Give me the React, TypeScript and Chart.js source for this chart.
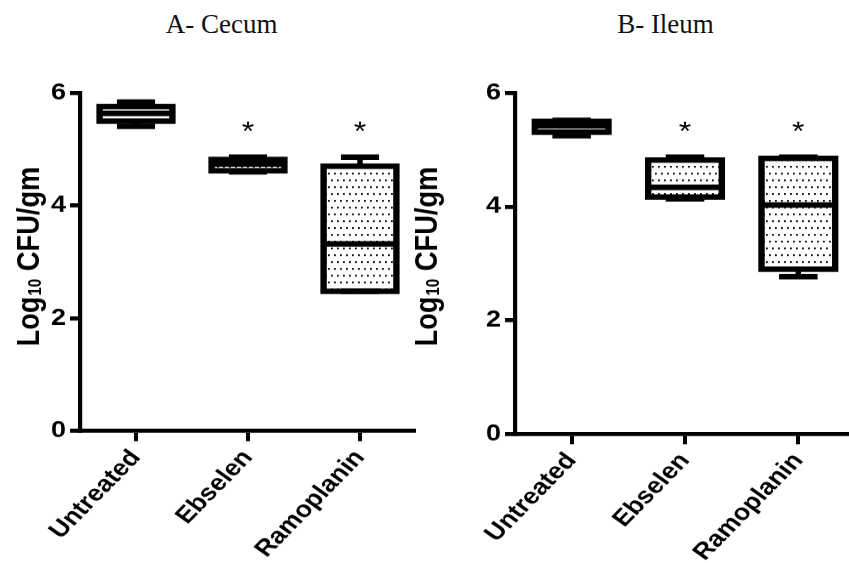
import React, { useEffect, useRef } from "react";
import { Chart, registerables } from "chart.js";

Chart.register(...registerables);

// ---------------- data ----------------
const categories = ["Untreated", "Ebselen", "Ramoplanin"];
const yTickValues = [0, 2, 4, 6];
const panelTitles = ["A- Cecum", "B- Ileum"];
const starLevel = 5.4;

const cecumMin = [5.41, 4.6, 2.48];
const cecumQ1 = [5.5, 4.62, 2.48];
const cecumMedian = [5.64, 4.74, 3.32];
const cecumQ3 = [5.76, 4.82, 4.7];
const cecumMax = [5.84, 4.86, 4.86];
const cecumStars = ["", "*", "*"];

const ileumMin = [5.25, 4.14, 2.77];
const ileumQ1 = [5.31, 4.17, 2.9];
const ileumMedian = [5.42, 4.34, 4.03];
const ileumQ3 = [5.5, 4.82, 4.85];
const ileumMax = [5.52, 4.87, 4.87];
const ileumStars = ["", "*", "*"];

// ---------------- styling / layout ----------------
const cecumDotted = [false, true, true];
const ileumDotted = [true, true, true];
const DISPLAY_H = 563;
const CANVAS_H = 662;
const toInt = (d: number) => (d * CANVAS_H) / DISPLAY_H;
const SANS = '"Liberation Sans", Arial, Helvetica, sans-serif';

function makePattern(ctx: CanvasRenderingContext2D) {
  const c = document.createElement("canvas");
  c.width = 6;
  c.height = 16;
  const g = c.getContext("2d")!;
  g.fillStyle = "#fff";
  g.fillRect(0, 0, 6, 16);
  g.fillStyle = "#111";
  g.fillRect(1, 3, 1.8, 2.2);
  g.fillRect(4, 11, 1.8, 2.2);
  return ctx.createPattern(c, "repeat");
}

type Stats = {
  min: number[];
  q1: number[];
  median: number[];
  q3: number[];
  max: number[];
  stars: string[];
};

function buildChart(
  canvas: HTMLCanvasElement,
  stats: Stats,
  dotted: boolean[],
  yAxisWidth: number,
  zeroDisplayY: number,
  titleBaselineX: number
) {
  const ctx = canvas.getContext("2d")!;
  const pattern = makePattern(ctx);
  const topInt = toInt(93);
  const xAxisH = CANVAS_H - toInt(zeroDisplayY);

  const boxPlugin = {
    id: "boxWhisker",
    afterDatasetsDraw(chart: any) {
      const c: CanvasRenderingContext2D = chart.ctx;
      const ys = chart.scales.y;
      const xs = chart.scales.x;
      const meta = chart.getDatasetMeta(0);
      const catW = (xs.right - xs.left) / categories.length;
      c.save();
      c.strokeStyle = "#000";
      c.lineCap = "butt";
      c.lineJoin = "miter";
      const seg = (x1: number, y1: number, x2: number, y2: number, w: number) => {
        c.lineWidth = w;
        c.beginPath();
        c.moveTo(x1, y1);
        c.lineTo(x2, y2);
        c.stroke();
      };
      meta.data.forEach((bar: any, i: number) => {
        const cx = bar.x;
        const half = bar.width / 2;
        const capHalf = catW * 0.17;
        const pMin = ys.getPixelForValue(stats.min[i]);
        const pQ1 = ys.getPixelForValue(stats.q1[i]);
        const pMed = ys.getPixelForValue(stats.median[i]);
        const pQ3 = ys.getPixelForValue(stats.q3[i]);
        const pMax = ys.getPixelForValue(stats.max[i]);
        seg(cx, pQ3, cx, pMax, 5.5);
        seg(cx, pQ1, cx, pMin, 5.5);
        seg(cx - capHalf, pMax, cx + capHalf, pMax, 6.5);
        seg(cx - capHalf, pMin, cx + capHalf, pMin, 6.5);
        c.lineWidth = 6.4;
        c.strokeRect(cx - half, pQ3, half * 2, pQ1 - pQ3);
        seg(cx - half, pMed, cx + half, pMed, 6.5);
        if (stats.stars[i]) {
          c.font = `32px ${SANS}`;
          c.fillStyle = "#000";
          c.textAlign = "center";
          c.textBaseline = "alphabetic";
          const m = c.measureText(stats.stars[i]);
          const yc = ys.getPixelForValue(starLevel);
          c.fillText(
            stats.stars[i],
            cx,
            yc + (m.actualBoundingBoxAscent - m.actualBoundingBoxDescent) / 2
          );
        }
      });
      c.restore();
    },
  };

  const yTitlePlugin = {
    id: "yTitle",
    afterDraw(chart: any) {
      const c: CanvasRenderingContext2D = chart.ctx;
      c.save();
      c.translate(titleBaselineX, toInt(257));
      c.rotate(-Math.PI / 2);
      const big = `bold 32px ${SANS}`;
      const small = `bold 18px ${SANS}`;
      c.font = big;
      const w1 = c.measureText("Log").width;
      const w3 = c.measureText(" CFU/gm").width;
      c.font = small;
      const w2 = c.measureText("10").width;
      let x = -(w1 + w2 + w3) / 2;
      c.fillStyle = "#000";
      c.textAlign = "left";
      c.textBaseline = "alphabetic";
      c.font = big;
      c.fillText("Log", x, 0);
      x += w1 + 1;
      c.font = small;
      c.fillText("10", x, 2);
      x += w2;
      c.font = big;
      c.fillText(" CFU/gm", x, 0);
      c.restore();
    },
  };

  return new Chart(canvas, {
    type: "bar",
    data: {
      labels: categories,
      datasets: [
        {
          data: categories.map((_, i) => [stats.q1[i], stats.q3[i]]) as any,
          backgroundColor: dotted.map((d) => (d ? pattern : "#fff")) as any,
          borderWidth: 0,
          barPercentage: 0.65,
          categoryPercentage: 1,
        },
      ],
    },
    options: {
      responsive: false,
      animation: false,
      devicePixelRatio: 1,
      layout: { padding: { top: topInt, left: 0, right: 0, bottom: 0 } },
      plugins: {
        legend: { display: false },
        tooltip: { enabled: false },
        title: { display: false },
      },
      scales: {
        x: {
          offset: true,
          grid: {
            display: true,
            offset: false,
            drawOnChartArea: false,
            drawTicks: true,
            tickLength: 12,
            color: "#000",
            lineWidth: 4,
          },
          border: { display: true, color: "#000", width: 4.8 },
          ticks: {
            autoSkip: false,
            minRotation: 50,
            maxRotation: 50,
            padding: 4,
            color: "#000",
            font: { family: SANS, size: 27, weight: "bold" },
          },
          afterFit: (s: any) => {
            s.height = xAxisH;
          },
        },
        y: {
          min: 0,
          max: 6,
          afterBuildTicks: (s: any) => {
            s.ticks = yTickValues.map((v) => ({ value: v }));
          },
          ticks: {
            padding: 4,
            color: "#000",
            font: { family: SANS, size: 27, weight: "bold" },
          },
          grid: {
            display: true,
            drawOnChartArea: false,
            drawTicks: true,
            tickLength: 10,
            color: "#000",
            lineWidth: 4.8,
          },
          border: { display: true, color: "#000", width: 4.2 },
          afterFit: (s: any) => {
            s.width = yAxisWidth;
          },
        },
      },
    } as any,
    plugins: [boxPlugin, yTitlePlugin],
  });
}

export default function App() {
  const leftRef = useRef<HTMLCanvasElement>(null);
  const rightRef = useRef<HTMLCanvasElement>(null);

  useEffect(() => {
    const c1 = buildChart(
      leftRef.current!,
      { min: cecumMin, q1: cecumQ1, median: cecumMedian, q3: cecumQ3, max: cecumMax, stars: cecumStars },
      cecumDotted,
      80,
      431,
      39
    );
    const c2 = buildChart(
      rightRef.current!,
      { min: ileumMin, q1: ileumQ1, median: ileumMedian, q3: ileumQ3, max: ileumMax, stars: ileumStars },
      ileumDotted,
      110,
      434,
      32
    );
    return () => {
      c1.destroy();
      c2.destroy();
    };
  }, []);

  const titleStyle: React.CSSProperties = {
    position: "absolute",
    top: 11.4,
    width: 200,
    textAlign: "center",
    fontFamily: '"Liberation Serif", "Times New Roman", serif',
    fontSize: 27,
    lineHeight: "27px",
    color: "#111",
    whiteSpace: "nowrap",
  };

  return (
    <div
      style={{
        position: "absolute",
        left: 0,
        top: 0,
        width: 849,
        height: 563,
        overflow: "hidden",
        background: "#fff",
      }}
    >
      <div style={{ ...titleStyle, left: 221.6 - 100 }}>{panelTitles[0]}</div>
      <div style={{ ...titleStyle, left: 665.5 - 100 }}>{panelTitles[1]}</div>
      <canvas
        ref={leftRef}
        width={416}
        height={CANVAS_H}
        style={{ position: "absolute", left: 0, top: 0, width: "416px", height: `${DISPLAY_H}px` }}
      />
      <canvas
        ref={rightRef}
        width={450}
        height={CANVAS_H}
        style={{ position: "absolute", left: 405, top: 0, width: "450px", height: `${DISPLAY_H}px` }}
      />
    </div>
  );
}
